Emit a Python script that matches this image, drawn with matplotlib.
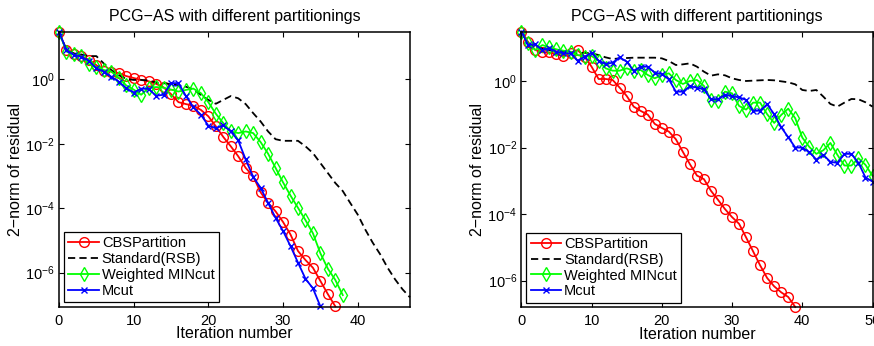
import numpy as np
import matplotlib
matplotlib.use('Agg')
import matplotlib.pyplot as plt
from matplotlib.ticker import FixedLocator, LogFormatterSciNotation, NullLocator

plt.rcParams['font.family'] = ['Liberation Sans', 'DejaVu Sans']
plt.rcParams['axes.unicode_minus'] = True

# residual norms, stored as log10 values
left_cbs = [1.47, 0.91, 0.80, 0.72, 0.60, 0.44, 0.26, 0.24, 0.19, 0.10,
            0.04, -0.02, -0.06, -0.14, -0.25, -0.46, -0.71, -0.77, -0.82, -0.95,
            -1.15, -1.46, -1.79, -2.08, -2.39, -2.75, -3.01, -3.51, -3.84, -4.10,
            -4.43, -4.82, -5.33, -5.61, -5.85, -6.26, -6.67, -7.05]
left_std = [1.47, 0.91, 0.80, 0.77, 0.72, 0.72, 0.49, 0.29, 0.13, 0.01,
            -0.02, -0.02, -0.04, -0.10, -0.12, -0.15, -0.19, -0.23, -0.31, -0.48,
            -0.64, -0.76, -0.64, -0.52, -0.59, -0.77, -1.05, -1.31, -1.62, -1.86,
            -1.91, -1.91, -1.91, -2.08, -2.29, -2.60, -2.91, -3.22, -3.47, -3.84,
            -4.20, -4.66, -5.07, -5.43, -5.85, -6.21, -6.52, -6.77]
left_wmin = [1.48, 0.86, 0.77, 0.71, 0.47, 0.39, 0.29, 0.24, 0.05, -0.19,
             -0.32, -0.48, -0.27, -0.24, -0.26, -0.32, -0.38, -0.33, -0.29, -0.43,
             -0.71, -1.07, -1.36, -1.62, -1.67, -1.62, -1.67, -1.95, -2.31, -2.75,
             -3.20, -3.61, -3.99, -4.37, -4.78, -5.40, -5.88, -6.23, -6.70]
left_mcut = [1.47, 0.91, 0.75, 0.70, 0.57, 0.34, 0.24, 0.08, -0.07, -0.28,
             -0.41, -0.29, -0.30, -0.51, -0.48, -0.12, -0.12, -0.52, -0.87, -1.10,
             -1.44, -1.52, -1.43, -1.62, -1.90, -2.49, -3.03, -3.37, -3.84, -4.30,
             -4.71, -5.18, -5.69, -6.19, -6.49, -7.05]

right_cbs = [1.48, 1.16, 0.93, 0.86, 0.86, 0.80, 0.75, 0.85, 0.93, 0.73,
             0.43, 0.06, 0.06, 0.03, -0.20, -0.45, -0.77, -0.90, -1.01, -1.29,
             -1.41, -1.52, -1.75, -2.13, -2.50, -2.84, -2.95, -3.30, -3.57, -3.85,
             -4.09, -4.29, -4.70, -5.12, -5.54, -5.92, -6.17, -6.35, -6.49, -6.79]
right_std = [1.48, 1.12, 1.02, 0.97, 0.93, 0.90, 0.87, 0.85, 0.83, 0.85,
             0.83, 0.78, 0.71, 0.66, 0.68, 0.69, 0.70, 0.70, 0.70, 0.70,
             0.68, 0.60, 0.48, 0.50, 0.53, 0.43, 0.28, 0.16, 0.20, 0.17,
             0.08, 0.03, 0.00, 0.01, 0.02, 0.03, 0.02, -0.01, -0.04, -0.10,
             -0.27, -0.30, -0.27, -0.47, -0.69, -0.77, -0.65, -0.54, -0.55, -0.64,
             -0.77]
right_wmin = [1.48, 1.13, 0.93, 1.08, 1.01, 0.95, 0.91, 0.88, 0.78, 0.73,
              0.75, 0.61, 0.38, 0.31, 0.31, 0.38, 0.31, 0.33, 0.18, 0.08,
              0.18, 0.23, 0.03, -0.09, 0.00, 0.03, -0.15, -0.57, -0.59, -0.32,
              -0.37, -0.75, -0.86, -0.65, -0.65, -1.00, -1.26, -1.02, -0.83, -1.12,
              -1.70, -1.98, -2.19, -2.08, -1.86, -2.22, -2.54, -2.54, -2.32, -2.52,
              -2.85]
right_mcut = [1.48, 1.08, 1.10, 0.93, 0.98, 0.88, 0.83, 0.83, 0.61, 0.73,
              0.85, 0.61, 0.51, 0.55, 0.71, 0.58, 0.31, 0.43, 0.43, 0.25,
              0.21, 0.05, -0.32, -0.32, -0.16, -0.20, -0.25, -0.55, -0.55, -0.41,
              -0.46, -0.49, -0.57, -0.90, -0.89, -0.70, -1.00, -1.39, -1.69, -2.00,
              -2.00, -2.14, -2.36, -2.22, -2.43, -2.46, -2.19, -2.19, -2.46, -2.90,
              -3.02]

labels = ['CBSPartition', 'Standard(RSB)', 'Weighted MINcut', 'Mcut']
title = 'PCG\u2212AS with different partitionings'


def draw(ax, cbs, std, wmin, mcut, xmax, ylo, yhi):
    kw = dict(lw=1.3, clip_on=False)
    ax.plot(np.arange(len(cbs)), 10.0 ** np.array(cbs), color='r', marker='o',
            mfc='none', ms=7, mew=1.0, **kw)
    ax.plot(np.arange(len(std)), 10.0 ** np.array(std), color='k',
            ls=(0, (4, 2.3)), **kw)
    ax.plot(np.arange(len(wmin)), 10.0 ** np.array(wmin), color=(0, 1, 0),
            marker='d', mfc='none', ms=7.5, mew=1.0, **kw)
    ax.plot(np.arange(len(mcut)), 10.0 ** np.array(mcut), color='b', marker='x',
            ms=4.5, mew=1.0, **kw)

    ax.set_yscale('log')
    ax.set_xlim(0, xmax)
    ax.set_ylim(10.0 ** ylo, 10.0 ** yhi)
    ax.yaxis.set_major_locator(FixedLocator([1e0, 1e-2, 1e-4, 1e-6]))
    ax.yaxis.set_major_formatter(LogFormatterSciNotation())
    ax.yaxis.set_minor_locator(NullLocator())
    ax.set_xticks(range(0, xmax + 1, 10))
    ax.tick_params(direction='in', top=True, right=True, length=3.5,
                   width=0.8)
    ax.tick_params(axis='x', pad=5, labelsize=10.5)
    ax.tick_params(axis='y', pad=3, labelsize=10.5)
    for s in ax.spines.values():
        s.set_linewidth(1.1)

    ax.set_title(title, fontsize=11.5, pad=8)
    ax.set_xlabel('Iteration number', fontsize=11.5, labelpad=-1)
    ax.set_ylabel('2\u2212norm of residual', fontsize=11.5, labelpad=1.5)

    leg = ax.legend(labels, loc='lower left', bbox_to_anchor=(0.014, 0.017),
                    borderaxespad=0, fontsize=10.5, fancybox=False,
                    edgecolor='k', framealpha=1, handlelength=2.1,
                    handletextpad=0.2, labelspacing=0.12, borderpad=0.3)
    leg.get_frame().set_linewidth(0.9)


fig = plt.figure(figsize=(8.74, 3.46), dpi=100)
ax1 = fig.add_axes([0.0675, 0.1136, 0.4016, 0.795])
ax2 = fig.add_axes([0.5965, 0.1118, 0.4018, 0.7965])

draw(ax1, left_cbs, left_std, left_wmin, left_mcut, 47, -7.06, 1.48)
draw(ax2, right_cbs, right_std, right_wmin, right_mcut, 50, -6.80, 1.48)

fig.savefig('out.png', dpi=100)
